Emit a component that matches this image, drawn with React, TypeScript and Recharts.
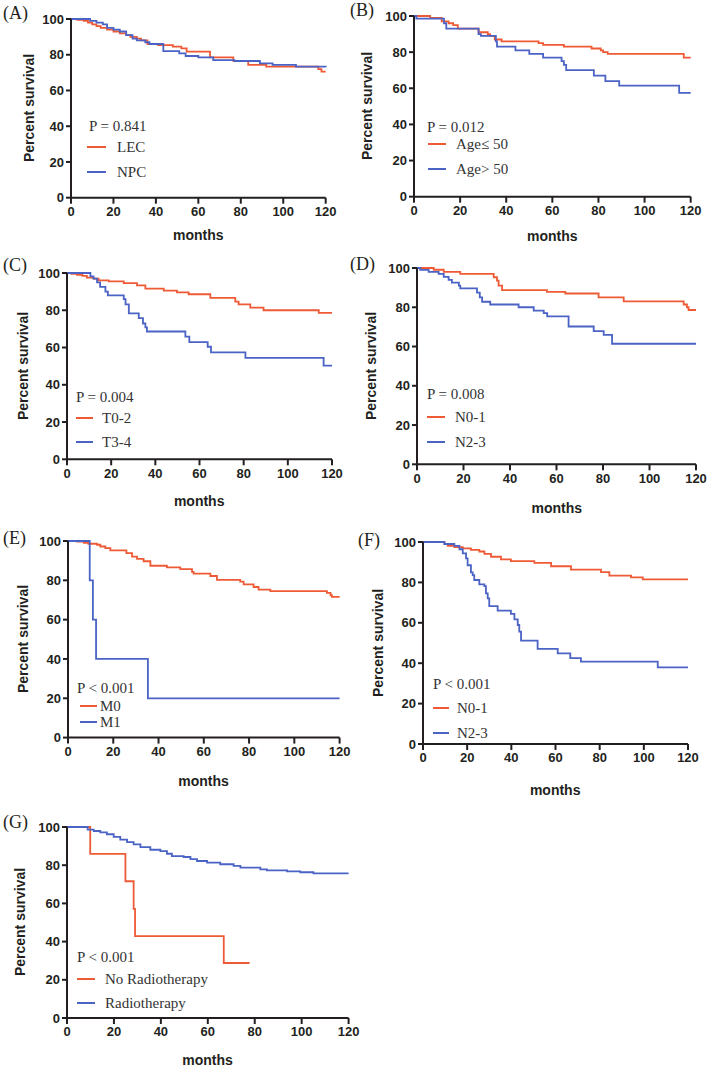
import { LineChart, Line, XAxis, YAxis } from "recharts";

const X_TICKS = [0, 20, 40, 60, 80, 100, 120];
const Y_TICKS = [0, 20, 40, 60, 80, 100];

const ORANGE = "#ef5a36";
const BLUE = "#4a63c4";
const INK = "#231f20";
const SANS = "'Liberation Sans', Arial, sans-serif";
const SERIF = "'Liberation Serif', 'Times New Roman', serif";

// (A) histology
const lecA = [[0, 100], [3, 99.5], [6, 99], [8, 98], [10, 97], [12, 96], [14, 95], [17, 94], [20, 93], [23, 92], [26, 91], [28, 90], [31, 89], [33, 88], [36, 86], [41, 85.4], [48, 84.5], [52, 83.6], [54.5, 81.7], [65.5, 78.5], [76.5, 76.5], [83.5, 74.3], [92, 73.3], [116.5, 72], [118, 70.5], [120, 70.5]];
const npcA = [[0, 100], [9, 99], [12, 98], [15, 97], [17, 95], [20, 94], [23, 93], [26, 91], [29, 89], [31, 88], [35, 87], [37, 86], [43.5, 82], [51, 80.8], [54, 79.3], [60, 78.5], [67, 77], [77, 76.5], [89, 75.2], [95, 74.3], [106, 73.3], [120, 73]];

// (B) age
const youngB = [[0, 100], [7, 99], [12, 97], [15, 96], [17, 95], [19, 93], [28, 91], [32, 90], [33, 89], [35, 87], [38, 86], [54, 85], [56, 84], [65, 83], [77, 82], [81, 81], [82, 80], [84, 79], [117, 77], [120, 77]];
const oldB = [[0, 100], [1, 98.5], [13, 96], [14, 93], [28, 90], [29, 89], [35.5, 86], [36, 83], [44, 81], [50, 79], [56, 77], [64, 75], [65, 73], [66, 70], [78, 67], [83, 64], [89, 61.5], [115, 57.5], [120, 57.5]];

// (C) T stage
const t02C = [[0, 100], [2, 99.5], [4.5, 99], [7, 98.5], [9, 97.5], [12, 97], [14.3, 96], [18.9, 95.5], [25.7, 94.6], [31.7, 93.4], [35.5, 91.6], [43.8, 90.5], [49.8, 89.6], [55.1, 88.6], [64.9, 86.6], [76.2, 84.6], [77.7, 83.2], [83, 81.4], [89, 80], [114, 78.6], [120, 78.6]];
const t34C = [[0, 100], [10.6, 98.2], [12, 97], [13.6, 95], [15, 92.5], [17.4, 90], [18.5, 88], [25.7, 86], [26.5, 83.2], [28, 78.3], [32.5, 75.8], [34.4, 72.9], [35.5, 70.8], [36.2, 68.6], [53.6, 65.8], [55.4, 62.9], [63.7, 60.4], [65.2, 57.4], [80.8, 54.4], [116.2, 50.3], [120, 50.3]];

// (D) N stage
const n01D = [[0, 100], [7.2, 99.1], [11.5, 98], [18.6, 97], [33, 95.3], [34.4, 93.6], [35.1, 91], [36.6, 88.7], [55.9, 87.8], [63.8, 87], [78.1, 85], [88.9, 83], [114.7, 81.4], [116.1, 80], [116.8, 78.6], [120, 78.6]];
const n23D = [[0, 100], [1.4, 99], [5, 98], [9.3, 97], [11.5, 95.5], [13.6, 94], [15, 92.5], [18, 91], [18.6, 89.6], [25.8, 87.5], [27, 85], [28, 82.8], [31.5, 81.4], [43.7, 80], [50.2, 78.3], [54.5, 77], [56, 75.4], [65.2, 70.2], [76, 67.8], [80.3, 65.9], [83.9, 61.4], [120, 61.4]];

// (E) M stage
const m0E = [[0, 100], [4, 99.7], [7, 99], [9, 98.6], [12.8, 98.1], [14.3, 97.2], [16.5, 96.4], [18.7, 95.2], [25.8, 93.8], [28.3, 92.1], [30.5, 90.9], [33.4, 89.7], [36.4, 87.4], [43.7, 86.6], [49.6, 85.7], [54.8, 84.3], [55.5, 83.4], [62.9, 82.2], [65.8, 80.2], [76.1, 79.3], [77.6, 77.9], [82, 76.6], [84.2, 75.3], [89.4, 74.5], [114.4, 73.6], [116, 72.4], [116.6, 71.6], [120, 71.6]];
const m1E = [[0, 100], [9.6, 80], [11, 60], [12.4, 40], [35.3, 20], [120, 20]];

// (F) N stage
const n01F = [[0, 100], [9.7, 99], [11.2, 98.1], [14.2, 97.5], [18, 96.8], [21.7, 96.1], [25.5, 95.3], [27.8, 94.1], [30.8, 92.7], [35.3, 91.4], [39.8, 90.5], [50.4, 89.7], [58, 88], [67, 86.3], [80.6, 85.1], [84.4, 83.4], [94.2, 82.5], [99.5, 81.5], [120, 81.5]];
const n23F = [[0, 100], [9.7, 99], [14.2, 98.1], [16.5, 96.4], [18, 94.4], [19.5, 91.9], [20.2, 88.5], [21.7, 85], [22.5, 83.6], [23.2, 81.2], [25.5, 79], [27.8, 78.2], [28.5, 74.6], [29.3, 72.1], [30, 68.3], [33.8, 66], [39.8, 64.4], [41.4, 61.7], [42.9, 58.9], [43.6, 55.6], [44.4, 51.2], [51.9, 47.1], [61, 44.9], [66.7, 42.5], [71.5, 40.8], [106.3, 37.9], [120, 37.9]];

// (G) radiotherapy
const noRtG = [[0, 100], [9.9, 85.9], [24.9, 71.6], [28.4, 57.1], [29, 42.9], [66.8, 28.8], [77.8, 28.8]];
const rtG = [[0, 100], [8.8, 98.6], [11.4, 97.9], [14.2, 97.2], [17, 96.2], [19.9, 94.8], [22.7, 93.4], [25.6, 92.1], [28.4, 90.9], [31.3, 89.5], [35.5, 88.1], [39.8, 87.4], [42.6, 86], [44.7, 84.8], [49.7, 84.3], [52.6, 83.2], [55.4, 82.2], [59.7, 81.3], [65.3, 80.5], [71, 79.6], [73.9, 78.7], [82.4, 77.8], [85.2, 77.3], [93.8, 76.8], [99.4, 76.3], [105, 75.7], [120, 75.7]];

const km = (pts: number[][]) => pts.map(([t, s]) => ({ t, s }));

interface PanelCfg {
  tag: string;
  p: string;
  names: string[];
  series: number[][][];
  box: number[]; // plot left, top, right, bottom
  tagPos: number[];
  yLabX: number;
  monthsY: number;
  pPos: number[];
  legX: number[]; // line start, line end, text start
  legY: number[];
}

const panels: PanelCfg[] = [
  { tag: "(A)", p: "P = 0.841", names: ["LEC", "NPC"], series: [lecA, npcA], box: [71, 19, 325.7, 197.7], tagPos: [3, 12.5], yLabX: 29, monthsY: 235, pPos: [89, 126], legX: [87, 106, 117], legY: [147, 172] },
  { tag: "(B)", p: "P = 0.012", names: ["Age\u2264 50", "Age> 50"], series: [youngB, oldB], box: [414, 16, 690.7, 196.7], tagPos: [350, 10], yLabX: 367, monthsY: 236, pPos: [427, 127], legX: [428, 446, 456], legY: [144, 169] },
  { tag: "(C)", p: "P = 0.004", names: ["T0-2", "T3-4"], series: [t02C, t34C], box: [66.7, 272.7, 331.7, 459], tagPos: [3, 265], yLabX: 22.5, monthsY: 501, pPos: [76, 397], legX: [76, 93, 102], legY: [418, 442] },
  { tag: "(D)", p: "P = 0.008", names: ["N0-1", "N2-3"], series: [n01D, n23D], box: [417.3, 267.7, 696.3, 464], tagPos: [350, 264], yLabX: 371, monthsY: 508, pPos: [427, 394], legX: [427, 445, 455], legY: [417, 442] },
  { tag: "(E)", p: "P < 0.001", names: ["M0", "M1"], series: [m0E, m1E], box: [67.7, 540.7, 339.3, 737.3], tagPos: [3, 538], yLabX: 22.5, monthsY: 781, pPos: [77, 688], legX: [80, 97, 100], legY: [706, 722] },
  { tag: "(F)", p: "P < 0.001", names: ["N0-1", "N2-3"], series: [n01F, n23F], box: [422.7, 542.3, 687.7, 744.3], tagPos: [358, 540], yLabX: 378, monthsY: 790, pPos: [433, 684], legX: [433, 449, 457], legY: [708, 733] },
  { tag: "(G)", p: "P < 0.001", names: ["No Radiotherapy", "Radiotherapy"], series: [noRtG, rtG], box: [66.7, 826.7, 348.3, 1017.7], tagPos: [3, 822], yLabX: 19.5, monthsY: 1060, pPos: [77, 957], legX: [77, 95, 105], legY: [979, 1003] },
];

const COLORS = [ORANGE, BLUE];
const ML = 50, MT = 8, MR = 14, MB = 30;

const abs = (x: number, y: number, extra: object = {}) => ({
  position: "absolute" as const,
  left: x,
  top: y,
  whiteSpace: "nowrap" as const,
  lineHeight: 1,
  ...extra,
});

function Panel({ cfg }: { cfg: PanelCfg }) {
  const [l, t, r, b] = cfg.box;
  const w = r - l;
  const h = b - t;
  const tick = { fill: INK, fontSize: 13, fontWeight: 700, fontFamily: SANS };
  return (
    <>
      <div style={abs(l - ML, t - MT)}>
        <LineChart width={w + ML + MR} height={h + MT + MB} margin={{ top: MT, right: MR, bottom: 0, left: 0 }}>
          <XAxis type="number" dataKey="t" domain={[0, 120]} ticks={X_TICKS} interval={0} height={MB}
            axisLine={{ stroke: INK, strokeWidth: 2 }} tickLine={{ stroke: INK, strokeWidth: 2 }} tickSize={6} tickMargin={3} tick={tick} />
          <YAxis type="number" domain={[0, 100]} ticks={Y_TICKS} interval={0} width={ML}
            axisLine={{ stroke: INK, strokeWidth: 2 }} tickLine={{ stroke: INK, strokeWidth: 2 }} tickSize={5} tickMargin={2} tick={tick} />
          {cfg.series.map((s, i) => (
            <Line key={i} data={km(s)} dataKey="s" type="stepAfter" stroke={COLORS[i]} strokeWidth={1.8}
              dot={false} activeDot={false} isAnimationActive={false} />
          ))}
        </LineChart>
      </div>
      <div style={abs(cfg.tagPos[0], cfg.tagPos[1], { fontFamily: SERIF, fontSize: 18, color: INK, transform: "translateY(-50%)" })}>{cfg.tag}</div>
      <div style={abs(cfg.yLabX, (t + b) / 2, { fontFamily: SANS, fontWeight: 700, fontSize: 14, color: INK, transform: "translate(-50%, -50%) rotate(-90deg)" })}>Percent survival</div>
      <div style={abs((l + r) / 2, cfg.monthsY, { fontFamily: SANS, fontWeight: 700, fontSize: 14, color: INK, transform: "translate(-50%, -50%)" })}>months</div>
      <div style={abs(cfg.pPos[0], cfg.pPos[1], { fontFamily: SERIF, fontSize: 15, color: "#333", transform: "translateY(-50%)" })}>{cfg.p}</div>
      {cfg.names.map((n, i) => (
        <div key={n + i}>
          <div style={abs(cfg.legX[0], cfg.legY[i] - 1, { width: cfg.legX[1] - cfg.legX[0], height: 2, background: COLORS[i] })} />
          <div style={abs(cfg.legX[2], cfg.legY[i], { fontFamily: SERIF, fontSize: 15, color: "#333", transform: "translateY(-50%)" })}>{n}</div>
        </div>
      ))}
    </>
  );
}

export default function App() {
  return (
    <div style={{ position: "absolute", left: 0, top: 0, width: 709, height: 1067, background: "#fff", overflow: "hidden" }}>
      {panels.map((p) => (
        <Panel key={p.tag} cfg={p} />
      ))}
    </div>
  );
}
